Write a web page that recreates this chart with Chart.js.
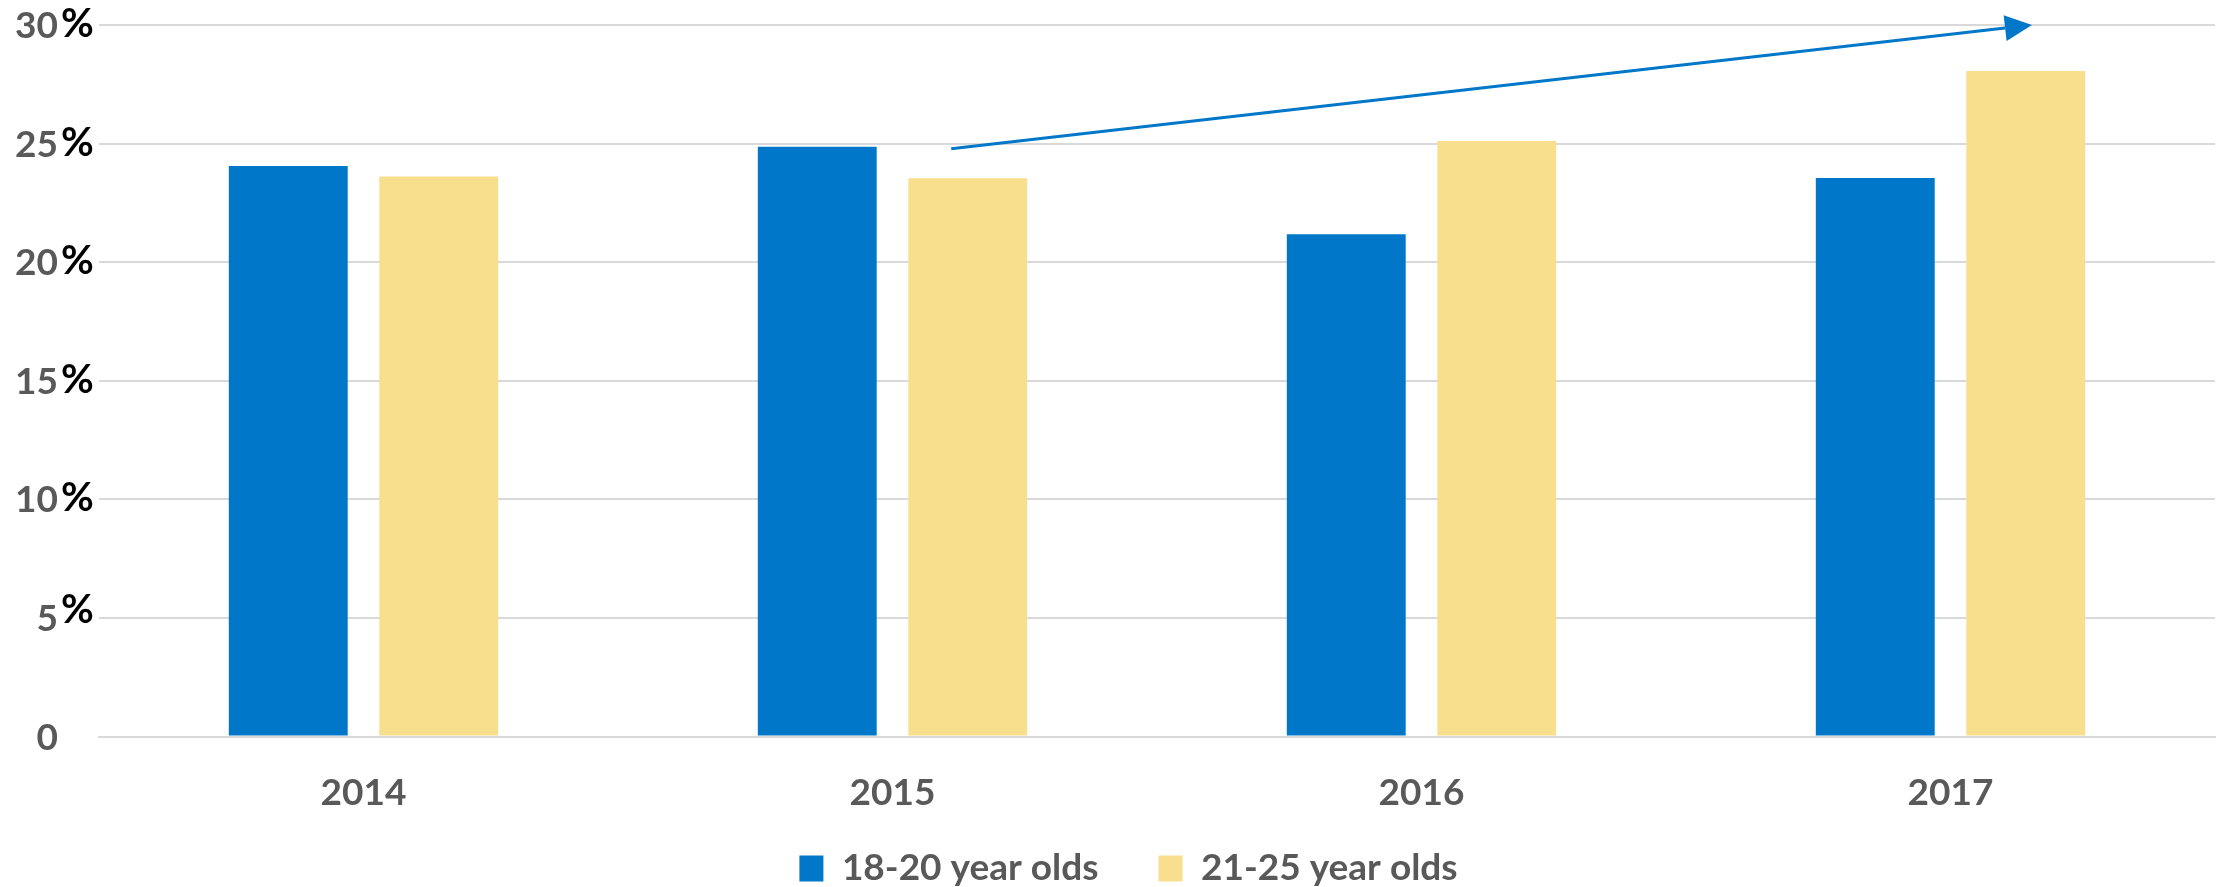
<!DOCTYPE html>
<html>
<head>
<meta charset="utf-8">
<script src="https://cdn.jsdelivr.net/npm/chart.js@4/dist/chart.umd.min.js"></script>
<style>
  html, body { margin: 0; padding: 0; background: #ffffff; }
  #wrap { width: 2227px; height: 887px; }
</style>
</head>
<body>
<div id="wrap"><canvas id="chart" width="2227" height="887"></canvas></div>
<script>
// Share of each age group, per year (percent)
const years = ['2014', '2015', '2016', '2017'];
const ages18to20 = [24.06, 24.87, 21.18, 23.55];
const ages21to25 = [23.61, 23.54, 25.11, 28.06];
const seriesNames = ['18-20 year olds', '21-25 year olds'];
const yTicks = [0, 5, 10, 15, 20, 25, 30];
// Trend arrow: [category position, percent] for tail and head
const trendFrom = [1.111, 24.78];
const trendTo = [3.154, 30.0];

const BLUE = '#0077C8';
const YELLOW = '#F8DF8E';
const GREY_TEXT = '#595959';
const GRID = '#D9D9D9';
const FONT = 'Lato, "Open Sans", sans-serif';

// Y tick labels: grey number followed by a black percent sign
const yLabelPlugin = {
  id: 'yLabels',
  afterDraw(chart) {
    const { ctx, chartArea, scales } = chart;
    ctx.save();
    ctx.textBaseline = 'middle';
    yTicks.forEach(v => {
      const y = scales.y.getPixelForValue(v);
      ctx.font = 'bold 37px ' + FONT;
      ctx.fillStyle = GREY_TEXT;
      ctx.textAlign = 'right';
      ctx.fillText(String(v), chartArea.left - 41, y + 1);
      if (v !== 0) {
        ctx.font = 'bold 40px ' + FONT;
        ctx.fillStyle = '#000000';
        ctx.textAlign = 'left';
        const lift = v === 5 ? 8 : 1;
        ctx.fillText('%', chartArea.left - 38, y - lift);
      }
    });
    ctx.restore();
  }
};

// Straight trend arrow drawn through the chart's own scales
const arrowPlugin = {
  id: 'trendArrow',
  afterDatasetsDraw(chart) {
    const { ctx, scales } = chart;
    const x1 = scales.x.getPixelForValue(trendFrom[0]);
    const y1 = scales.y.getPixelForValue(trendFrom[1]);
    const x2 = scales.x.getPixelForValue(trendTo[0]);
    const y2 = scales.y.getPixelForValue(trendTo[1]);
    const ang = Math.atan2(y2 - y1, x2 - x1);
    const headLen = 27, headHalf = 13;
    const bx = x2 - headLen * Math.cos(ang);
    const by = y2 - headLen * Math.sin(ang);
    ctx.save();
    ctx.strokeStyle = BLUE;
    ctx.fillStyle = BLUE;
    ctx.lineWidth = 3;
    ctx.beginPath();
    ctx.moveTo(x1, y1);
    ctx.lineTo(bx, by);
    ctx.stroke();
    ctx.beginPath();
    ctx.moveTo(x2, y2);
    ctx.lineTo(bx - headHalf * Math.sin(ang), by + headHalf * Math.cos(ang));
    ctx.lineTo(bx + headHalf * Math.sin(ang), by - headHalf * Math.cos(ang));
    ctx.closePath();
    ctx.fill();
    ctx.restore();
  }
};

// Place the legend row just under the year labels, nudged right
const legendPlace = {
  id: 'legendPlace',
  afterLayout(chart) {
    const lg = chart.legend;
    if (lg) {
      const h = lg.bottom - lg.top;
      lg.top = 790;
      lg.bottom = 790 + h;
      lg.left += 21;
      lg.right += 21;
    }
  }
};

new Chart(document.getElementById('chart'), {
  type: 'bar',
  data: {
    labels: years,
    datasets: [
      { label: seriesNames[0], data: ages18to20, backgroundColor: BLUE, borderWidth: 0 },
      { label: seriesNames[1], data: ages21to25, backgroundColor: YELLOW, borderWidth: 0 }
    ]
  },
  options: {
    responsive: false,
    animation: false,
    devicePixelRatio: 1,
    categoryPercentage: 0.569,
    barPercentage: 0.79,
    layout: { padding: { top: 25, right: 12, left: 0, bottom: -69 } },
    plugins: {
      tooltip: { enabled: false },
      legend: {
        position: 'bottom',
        labels: {
          color: GREY_TEXT,
          font: { family: FONT, size: 37, weight: 'bold' },
          boxWidth: 24,
          boxHeight: 26,
          padding: 60
        }
      }
    },
    scales: {
      x: {
        grid: { display: false, drawTicks: false },
        border: { display: true, color: GRID, width: 2 },
        ticks: {
          color: GREY_TEXT,
          font: { family: FONT, size: 37, weight: 'bold' },
          padding: 34
        }
      },
      y: {
        min: 0,
        max: 30,
        afterBuildTicks(scale) { scale.ticks = yTicks.map(v => ({ value: v })); },
        afterFit(scale) { scale.width = 99; },
        ticks: { display: false },
        grid: { color: GRID, lineWidth: 2, drawTicks: false },
        border: { display: false }
      }
    }
  },
  plugins: [yLabelPlugin, arrowPlugin, legendPlace]
});
</script>
</body>
</html>
